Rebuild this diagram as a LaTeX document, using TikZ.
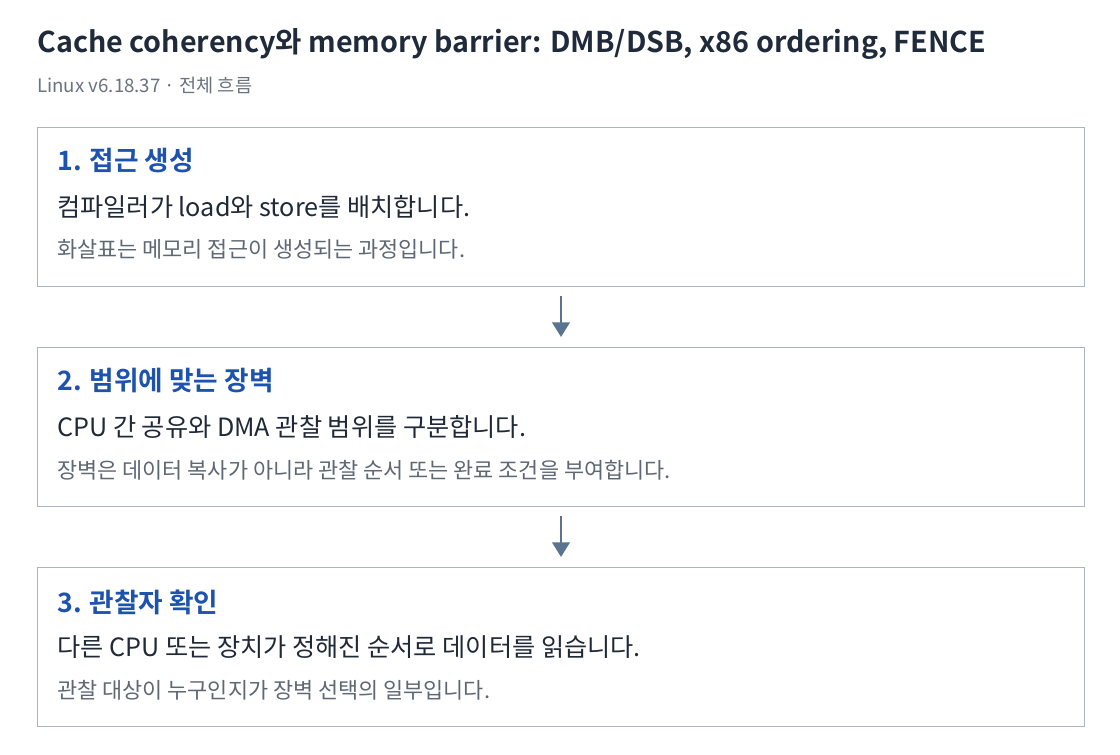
\documentclass[tikz,border=0pt]{standalone}
\usepackage{fontspec}
\setmainfont{Noto Sans CJK KR}
\newfontfamily\boldkr{Noto Sans CJK KR Bold}
\usetikzlibrary{arrows.meta}
\definecolor{titlec}{HTML}{1F2A3A}
\definecolor{subc}{HTML}{6B7380}
\definecolor{headc}{HTML}{1D52AE}
\definecolor{bodyc}{HTML}{1F2937}
\definecolor{smallc}{HTML}{5E6875}
\definecolor{borderc}{HTML}{AAB5C4}
\definecolor{arrowc}{HTML}{5A7390}
\tikzset{
  stepbox/.style={draw=borderc, line width=0.9pt, fill=white, minimum width=1047*0.75pt, minimum height=159*0.75pt, anchor=north west, inner sep=0pt},
  titletext/.style={anchor=west, inner sep=0pt, text=titlec, font=\boldkr\fontsize{21.5pt}{24pt}\selectfont},
  subtext/.style={anchor=west, inner sep=0pt, text=subc, font=\fontsize{14pt}{16pt}\selectfont},
  headtext/.style={anchor=west, inner sep=0pt, text=headc, font=\boldkr\fontsize{20pt}{22pt}\selectfont},
  bodytext/.style={anchor=west, inner sep=0pt, text=bodyc, font=\fontsize{18.9pt}{21pt}\selectfont},
  smalltext/.style={anchor=west, inner sep=0pt, text=smallc, font=\fontsize{16.4pt}{18pt}\selectfont},
  flow/.style={draw=arrowc, line width=2.2pt, -{Triangle[width=13pt,length=11pt]}}
}
\begin{document}
\begin{tikzpicture}[x=0.75pt,y=-0.75pt]
\useasboundingbox (0,0) rectangle (1120,754);
\fill[white] (0,0) rectangle (1120,754);
\node[titletext] (title) at (37,44) {Cache coherency와 memory barrier: DMB/DSB, x86 ordering, FENCE};
\node[subtext] (sub) at (37,86) {Linux v6.18.37 · 전체 흐름};
% boxes
\node[stepbox] (b1) at (37,127) {};
\node[stepbox] (b2) at (37,347) {};
\node[stepbox] (b3) at (37,567) {};
% box 1
\node[headtext] (h1) at (57,161) {1. 접근 생성};
\node[bodytext] (t1) at (57,207) {컴파일러가 load와 store를 배치합니다.};
\node[smalltext] (s1) at (57,249) {화살표는 메모리 접근이 생성되는 과정입니다.};
% box 2
\node[headtext] (h2) at (57,381) {2. 범위에 맞는 장벽};
\node[bodytext] (t2) at (57,427) {CPU 간 공유와 DMA 관찰 범위를 구분합니다.};
\node[smalltext] (s2) at (57,470) {장벽은 데이터 복사가 아니라 관찰 순서 또는 완료 조건을 부여합니다.};
% box 3
\node[headtext] (h3) at (57,602) {3. 관찰자 확인};
\node[bodytext] (t3) at (57,647) {다른 CPU 또는 장치가 정해진 순서로 데이터를 읽습니다.};
\node[smalltext] (s3) at (57,690) {관찰 대상이 누구인지가 장벽 선택의 일부입니다.};
% arrows
\coordinate (a1s) at (561,296);
\coordinate (a1e) at (561,337);
\coordinate (a2s) at (561,516);
\coordinate (a2e) at (561,557);
\draw[flow] (a1s) -- (a1e);
\draw[flow] (a2s) -- (a2e);
\end{tikzpicture}
\end{document}
